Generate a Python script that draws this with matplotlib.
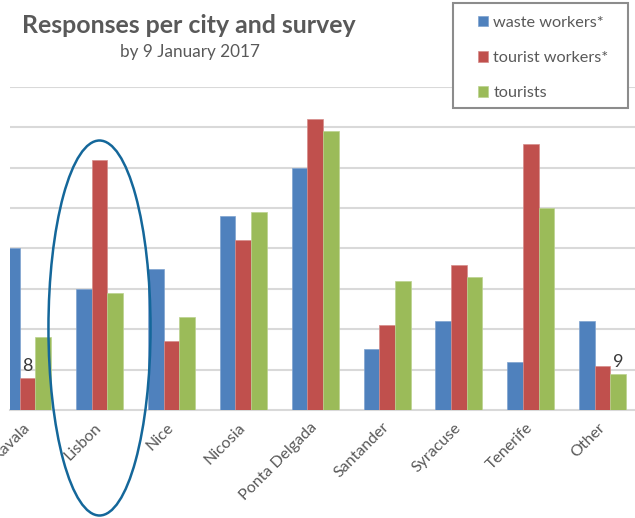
import numpy as np
import matplotlib
matplotlib.use('Agg')
import matplotlib.pyplot as plt
import matplotlib.transforms as mtransforms
from matplotlib.patches import Ellipse, Rectangle

plt.rcParams['font.family'] = ['Lato', 'DejaVu Sans']

cities = ['Kavala', 'Lisbon', 'Nice', 'Nicosia', 'Ponta Delgada',
          'Santander', 'Syracuse', 'Tenerife', 'Other']
waste_workers = [40, 30, 35, 48, 60, 15, 22, 12, 22]
tourist_workers = [8, 62, 17, 42, 72, 21, 36, 66, 11]
tourists = [18, 29, 23, 49, 69, 32, 33, 50, 9]

blue = '#4F81BD'
red = '#C0504D'
green = '#9BBB59'
grey = '#595959'

fig = plt.figure(figsize=(6.35, 5.18), dpi=100)
ax = fig.add_axes([10/635, 1 - 410/518, 1 - 10/635, (410 - 87)/518])

x = np.arange(len(cities))
w = 0.218
ax.bar(x - w, waste_workers, w, color=blue, edgecolor='#7FA3D0', linewidth=0.5, label='waste workers*', zorder=3)
ax.bar(x, tourist_workers, w, color=red, edgecolor='#D58C8A', linewidth=0.5, label='tourist workers*', zorder=3)
ax.bar(x + w, tourists, w, color=green, edgecolor='#BBD28F', linewidth=0.5, label='tourists', zorder=3)

# the two data labels shown in the picture
ax.text(x[0], tourist_workers[0] + 1, str(tourist_workers[0]), ha='center', va='bottom',
        fontsize=13, color='#3A3A3A', zorder=4)
ax.text(x[-1] + w, tourists[-1] + 1, str(tourists[-1]), ha='center', va='bottom',
        fontsize=13, color='#3A3A3A', zorder=4)

ax.set_ylim(0, 80)
ax.set_xlim(-0.245, 8.45)
ax.set_yticks(np.arange(10, 81, 10))
ax.yaxis.grid(True, color='#D9D9D9', linewidth=1.5, zorder=0)
ax.tick_params(axis='y', left=False, labelleft=False)
ax.tick_params(axis='x', length=0, pad=11)
for s in ['top', 'right', 'left']:
    ax.spines[s].set_visible(False)
ax.spines['bottom'].set_color('#D9D9D9')
ax.spines['bottom'].set_linewidth(1.5)

ax.set_xticks(x)
ax.set_xticklabels(cities, rotation=45, ha='right', va='center', rotation_mode='anchor',
                   fontsize=11.5, color=grey)

fig.text(22/635, 1 - 33/518, 'Responses per city and survey', fontsize=17.9,
         fontweight='bold', color=grey, va='baseline')
fig.text(120/635, 1 - 57/518, 'by 9 January 2017', fontsize=12.3,
         color=grey, va='baseline')

# legend box drawn separately so the padding can follow the picture
box = Rectangle((453/635, 1 - 108/518), 175/635, 105/518, transform=fig.transFigure,
                facecolor='white', edgecolor='#8C8C8C', linewidth=1.5, zorder=1)
fig.patches.append(box)
handles, labels = ax.get_legend_handles_labels()
leg = fig.legend(handles, labels, loc='upper left', bbox_to_anchor=(478/635, 1 - 16/518),
                 frameon=False, fontsize=11.7, labelspacing=1.3, handlelength=0.6,
                 handleheight=0.6, handletextpad=0.35, borderpad=0, borderaxespad=0)
leg.set_zorder(5)
for t in leg.get_texts():
    t.set_color(grey)

# highlight ring round Lisbon
trans = mtransforms.blended_transform_factory(ax.transData, fig.transFigure)
ring = Ellipse((x[1], 1 - 328/518), 1.42, 375/518, transform=trans, fill=False,
               edgecolor='#14679A', linewidth=1.8, clip_on=False, zorder=5)
ax.add_patch(ring)

plt.savefig('out.png', dpi=100)
plt.close('all')
